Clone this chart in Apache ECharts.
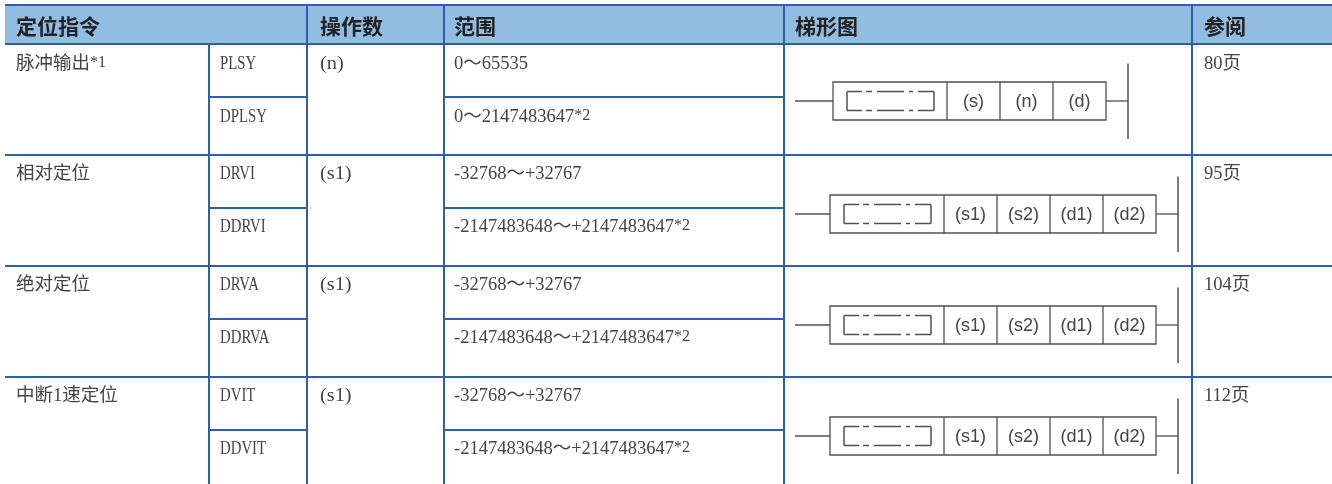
<!DOCTYPE html>
<html>
<head>
<meta charset="utf-8">
<title>定位指令</title>
<script src="https://cdn.jsdelivr.net/npm/echarts@6/dist/echarts.min.js"></script>
<style>
  html, body { margin: 0; padding: 0; background: #fff; }
  #chart { width: 1332px; height: 484px; }
</style>
</head>
<body>
<div id="chart"></div>
<script>
// table content
const headers = ['定位指令', '操作数', '范围', '梯形图', '参阅'];
const instructionNames = ['脉冲输出{sup|*1}', '相对定位', '绝对定位', '中断1速定位'];
const wordMnemonics = ['PLSY', 'DRVI', 'DRVA', 'DVIT'];
const dwordMnemonics = ['DPLSY', 'DDRVI', 'DDRVA', 'DDVIT'];
const operandNames = ['(n)', '(s1)', '(s1)', '(s1)'];
const wordRanges = ['0～65535', '-32768～+32767', '-32768～+32767', '-32768～+32767'];
const dwordRanges = [
  '0～2147483647{sup|*2}',
  '-2147483648～+2147483647{sup|*2}',
  '-2147483648～+2147483647{sup|*2}',
  '-2147483648～+2147483647{sup|*2}'
];
const pageRefs = ['80页', '95页', '104页', '112页'];
const ladderOperands = [
  ['(s)', '(n)', '(d)'],
  ['(s1)', '(s2)', '(d1)', '(d2)'],
  ['(s1)', '(s2)', '(d1)', '(d2)'],
  ['(s1)', '(s2)', '(d1)', '(d2)']
];

// layout, in page pixels
const W = 1332, H = 484;
const colX = [5, 209, 307, 444, 784, 1192];
const headTop = 5, headBottom = 44;
const rowBottom = [155, 266, 377, 488];
const rowMid = [97, 208, 319, 430];
const textY = [[64, 117], [174, 227], [285, 338], [396, 449]];
const ladderY = [101, 214, 325, 436];
const ladderX = [833, 830, 830, 830];

const BLUE = '#2f5fa9', HEAD = '#92bde3', INK = '#444', HEAD_INK = '#222', LADDER = '#505050';
const SERIF = '"Liberation Serif", "Noto Sans CJK SC"';
const supStyle = { fontFamily: SERIF, fontSize: 16, fill: INK, verticalAlign: 'top', lineHeight: 16, padding: [0, 0, 11, 0] };

// one [x, y, text, kind] per cell
const cellData = [];
headers.forEach((h, i) => cellData.push([[16, 320, 454, 795, 1204][i], 26, h, 'head']));
instructionNames.forEach((t, r) => {
  cellData.push([16, textY[r][0], t, 'body']);
  cellData.push([220, textY[r][0], wordMnemonics[r], 'mono']);
  cellData.push([220, textY[r][1], dwordMnemonics[r], 'mono']);
  cellData.push([320, textY[r][0], operandNames[r], 'operand']);
  cellData.push([454, textY[r][0], wordRanges[r], 'body']);
  cellData.push([454, textY[r][1], dwordRanges[r], 'body']);
  cellData.push([1204, textY[r][0], pageRefs[r], 'body']);
});

// table rules as [x1, y1, x2, y2]
const ruleData = [
  [colX[0], headTop, W, headTop],
  [colX[0], headBottom, W, headBottom],
  [colX[2], headTop, colX[2], H],
  [colX[3], headTop, colX[3], H],
  [colX[4], headTop, colX[4], H],
  [colX[5], headTop, colX[5], H],
  [colX[1], headBottom, colX[1], H]
];
rowBottom.forEach(y => ruleData.push([colX[0], y, W, y]));
rowMid.forEach(y => {
  ruleData.push([colX[1], y, colX[2], y]);
  ruleData.push([colX[3], y, colX[4], y]);
});

function renderCell(params, api) {
  const p = api.coord([api.value(0), api.value(1)]);
  const kind = api.value(3);
  const text = cellData[params.dataIndex][2];
  if (kind === 'head') {
    return { type: 'text', x: p[0], y: p[1], silent: true, style: {
      text, x: 0, y: 0, fill: HEAD_INK, verticalAlign: 'middle',
      font: 'bold 21px "Noto Sans CJK SC"' } };
  }
  if (kind === 'mono' || kind === 'operand') {
    // the original face is a fixed-pitch serif, so stretch the nearest one
    return { type: 'text', x: p[0], y: p[1], scaleX: kind === 'mono' ? 0.8 : 1.1, silent: true, style: {
      text, x: 0, y: 0, fill: INK, verticalAlign: 'middle',
      font: '18.5px "Liberation Serif"' } };
  }
  return { type: 'text', x: p[0], y: p[1], silent: true, style: {
    text, x: 0, y: 0, fill: INK, verticalAlign: 'middle',
    fontFamily: SERIF, fontSize: 18.5, rich: { sup: supStyle } } };
}

function renderRule(params, api) {
  const a = api.coord([api.value(0), api.value(1)]);
  const b = api.coord([api.value(2), api.value(3)]);
  return { type: 'line', silent: true, shape: { x1: a[0], y1: a[1], x2: b[0], y2: b[1] },
    style: { stroke: BLUE, lineWidth: 2 } };
}

// ladder symbol: stem, instruction box with operand cells, right bus bar
const NAME_W = 114, CELL_W = 53, BOX_H = 38, BUS_GAP = 22;
const dashes = [[0, 15], [19, 25], [30, 57], [62, 66], [71, 87]];

function renderLadder(params, api) {
  const r = params.dataIndex;
  const ops = ladderOperands[r];
  const left = api.value(0), cy = api.value(1);
  const right = left + NAME_W + ops.length * CELL_W;
  const top = cy - BOX_H / 2;
  const line = (x1, y1, x2, y2, w) => {
    const a = api.coord([x1, y1]), b = api.coord([x2, y2]);
    return { type: 'line', silent: true, shape: { x1: a[0], y1: a[1], x2: b[0], y2: b[1] },
      style: { stroke: LADDER, lineWidth: w || 1.3 } };
  };
  const kids = [
    line(795, cy, left, cy),
    line(right, cy, right + BUS_GAP, cy),
    line(right + BUS_GAP, cy - 37.5, right + BUS_GAP, cy + 38, 1.5)
  ];
  const tl = api.coord([left, top]);
  kids.push({ type: 'rect', silent: true,
    shape: { x: tl[0], y: tl[1], width: right - left, height: BOX_H },
    style: { fill: '#fff', stroke: LADDER, lineWidth: 1.3 } });
  // dash-dot bracket inside the name box
  const ix = left + 14, iTop = cy - 9.5, iBottom = cy + 9.5;
  dashes.forEach(d => {
    kids.push(line(ix + d[0], iTop, ix + d[1], iTop, 1.5));
    kids.push(line(ix + d[0], iBottom, ix + d[1], iBottom, 1.5));
  });
  kids.push(line(ix, iTop, ix, iBottom, 1.5));
  kids.push(line(ix + 87, iTop, ix + 87, iBottom, 1.5));
  ops.forEach((op, i) => {
    const x = left + NAME_W + i * CELL_W;
    kids.push(line(x, top, x, top + BOX_H));
    const c = api.coord([x + CELL_W / 2, cy + 1]);
    kids.push({ type: 'text', x: c[0], y: c[1], silent: true, style: {
      text: op, x: 0, y: 0, fill: INK, align: 'center', verticalAlign: 'middle',
      font: '18px "Liberation Sans"' } });
  });
  return { type: 'group', children: kids };
}

const chart = echarts.init(document.getElementById('chart'), null, { renderer: 'canvas' });
chart.setOption({
  animation: false,
  backgroundColor: '#fff',
  grid: { left: 0, right: 0, top: 0, bottom: 0 },
  xAxis: { type: 'value', min: 0, max: W, show: false },
  yAxis: { type: 'value', min: 0, max: H, inverse: true, show: false },
  series: [
    {
      type: 'custom', coordinateSystem: 'cartesian2d', clip: false, silent: true,
      data: [[colX[0], headTop, W, headBottom]],
      renderItem: (params, api) => {
        const a = api.coord([api.value(0), api.value(1)]);
        const b = api.coord([api.value(2), api.value(3)]);
        return { type: 'rect', silent: true, shape: { x: a[0], y: a[1], width: b[0] - a[0], height: b[1] - a[1] },
          style: { fill: HEAD } };
      }
    },
    { type: 'custom', coordinateSystem: 'cartesian2d', clip: false, silent: true, data: ruleData, renderItem: renderRule },
    { type: 'custom', coordinateSystem: 'cartesian2d', clip: false, silent: true,
      data: ladderY.map((y, r) => [ladderX[r], y]), renderItem: renderLadder },
    { type: 'custom', coordinateSystem: 'cartesian2d', clip: false, silent: true, data: cellData, renderItem: renderCell,
      encode: { x: 0, y: 1 } }
  ]
});
window.addEventListener('resize', () => chart.resize());
</script>
</body>
</html>
